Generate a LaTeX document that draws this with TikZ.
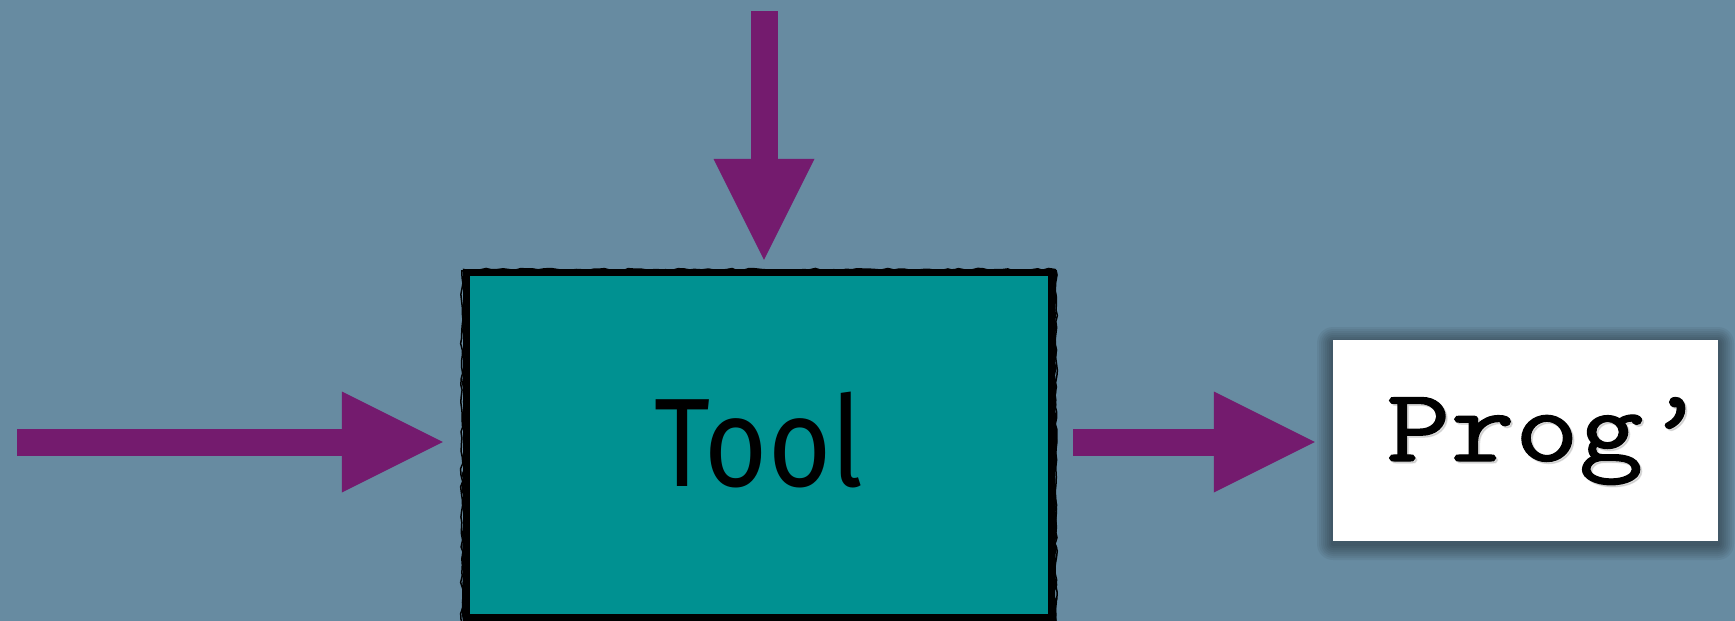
\documentclass[tikz,border=0pt]{standalone}
\usepackage{fontspec}
\setsansfont{Fira Sans}
\newfontfamily\codefont[FakeBold=1.2]{Latin Modern Mono}
\usetikzlibrary{arrows.meta, positioning, decorations.pathmorphing}

\definecolor{slate}{RGB}{103,139,161}
\definecolor{toolteal}{RGB}{0,145,145}
\definecolor{plum}{RGB}{116,27,110}

\tikzset{
  fatarrow/.style={draw=plum, line width=27pt,
    -{Triangle[length=101pt, width=101pt, line width=0pt]}},
  toolbox/.style={rectangle, fill=toolteal, minimum width=584pt,
    minimum height=344pt, inner sep=0pt,
    font=\sffamily\fontsize{126}{130}\selectfont},
  progbox/.style={rectangle, fill=white, minimum width=385pt,
    minimum height=201pt, inner sep=0pt},
  progfont/.style={anchor=base west, inner sep=0pt,
    font=\codefont\fontsize{104}{110}\selectfont},
  sketchy/.style={draw=black, decorate,
    decoration={random steps, segment length=6pt, amplitude=1.2pt}}
}

\begin{document}
\begin{tikzpicture}[x=1pt, y=-1pt]
  \pgfmathsetseed{7}
  \fill[slate] (0,0) rectangle (1735,621);
  \useasboundingbox (0,0) rectangle (1735,621);

  \node[toolbox] (tool) at (759,445) {\raisebox{11pt}{\scalebox{0.86}[1]{Tool}}};
  % rough hand-drawn frame
  \draw[black, line width=7pt] (tool.north west) rectangle (tool.south east);
  \draw[sketchy, line width=2pt] ([shift={(-3,-3)}]tool.north west) rectangle ([shift={(4,3)}]tool.south east);
  \draw[sketchy, line width=1.5pt] ([shift={(-5,-2)}]tool.north west) rectangle ([shift={(5,5)}]tool.south east);

  % soft shadow behind the output box
  \foreach \s in {2,4,...,16}
    \fill[black, opacity=0.05, rounded corners=\s pt] (1333-\s,340-\s+3) rectangle (1718+\s,541+\s+3);
  \node[progbox] (prog) at (1525.5,440.5) {};
  \node[progfont, text=black!40, opacity=0.3] at (1388,463) {\scalebox{1.2}[1]{Prog’}};
  \node[progfont] (progtext) at (1386,461) {\scalebox{1.2}[1]{Prog’}};

  \coordinate (src) at (17,442);
  \coordinate (top) at (764,11);

  \draw[fatarrow] (src) -- ([xshift=-24pt]tool.west |- src);
  \draw[fatarrow] (top) -- ([yshift=13pt]top |- tool.north);
  \draw[fatarrow] ([xshift=22pt]tool.east |- src) -- ([xshift=-18pt]prog.west |- src);
\end{tikzpicture}
\end{document}
